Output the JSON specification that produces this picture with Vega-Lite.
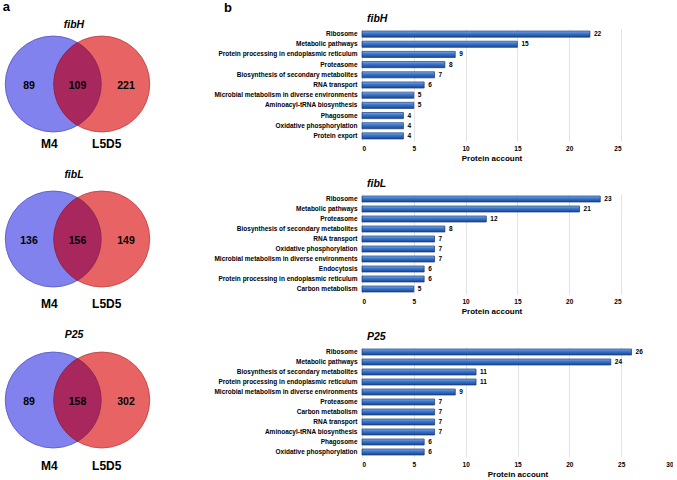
{
  "$schema": "https://vega.github.io/schema/vega-lite/v6.json",
  "background": "white",
  "padding": {"left": 2, "top": 0, "right": 0, "bottom": 0},
  "config": {
    "font": "Liberation Sans",
    "view": {"stroke": null},
    "axis": {"labelColor": "#000", "titleColor": "#000"}
  },
  "datasets": {
    "venn": [
      {"panel": "fibH", "region": "M4 only", "count": 89},
      {"panel": "fibH", "region": "both", "count": 109},
      {"panel": "fibH", "region": "L5D5 only", "count": 221},
      {"panel": "fibL", "region": "M4 only", "count": 136},
      {"panel": "fibL", "region": "both", "count": 156},
      {"panel": "fibL", "region": "L5D5 only", "count": 149},
      {"panel": "P25", "region": "M4 only", "count": 89},
      {"panel": "P25", "region": "both", "count": 158},
      {"panel": "P25", "region": "L5D5 only", "count": 302}
    ],
    "sets": [{"set": "M4"}, {"set": "L5D5"}],
    "bars": [
      {"panel": "fibH", "pathway": "Ribosome", "count": 22},
      {"panel": "fibH", "pathway": "Metabolic pathways", "count": 15},
      {"panel": "fibH", "pathway": "Protein processing in endoplasmic reticulum", "count": 9},
      {"panel": "fibH", "pathway": "Proteasome", "count": 8},
      {"panel": "fibH", "pathway": "Biosynthesis of secondary metabolites", "count": 7},
      {"panel": "fibH", "pathway": "RNA transport", "count": 6},
      {"panel": "fibH", "pathway": "Microbial metabolism in diverse environments", "count": 5},
      {"panel": "fibH", "pathway": "Aminoacyl-tRNA biosynthesis", "count": 5},
      {"panel": "fibH", "pathway": "Phagosome", "count": 4},
      {"panel": "fibH", "pathway": "Oxidative phosphorylation", "count": 4},
      {"panel": "fibH", "pathway": "Protein export", "count": 4},
      {"panel": "fibL", "pathway": "Ribosome", "count": 23},
      {"panel": "fibL", "pathway": "Metabolic pathways", "count": 21},
      {"panel": "fibL", "pathway": "Proteasome", "count": 12},
      {"panel": "fibL", "pathway": "Biosynthesis of secondary metabolites", "count": 8},
      {"panel": "fibL", "pathway": "RNA transport", "count": 7},
      {"panel": "fibL", "pathway": "Oxidative phosphorylation", "count": 7},
      {"panel": "fibL", "pathway": "Microbial metabolism in diverse environments", "count": 7},
      {"panel": "fibL", "pathway": "Endocytosis", "count": 6},
      {"panel": "fibL", "pathway": "Protein processing in endoplasmic reticulum", "count": 6},
      {"panel": "fibL", "pathway": "Carbon metabolism", "count": 5},
      {"panel": "P25", "pathway": "Ribosome", "count": 26},
      {"panel": "P25", "pathway": "Metabolic pathways", "count": 24},
      {"panel": "P25", "pathway": "Biosynthesis of secondary metabolites", "count": 11},
      {"panel": "P25", "pathway": "Protein processing in endoplasmic reticulum", "count": 11},
      {"panel": "P25", "pathway": "Microbial metabolism in diverse environments", "count": 9},
      {"panel": "P25", "pathway": "Proteasome", "count": 7},
      {"panel": "P25", "pathway": "Carbon metabolism", "count": 7},
      {"panel": "P25", "pathway": "RNA transport", "count": 7},
      {"panel": "P25", "pathway": "Aminoacyl-tRNA biosynthesis", "count": 7},
      {"panel": "P25", "pathway": "Phagosome", "count": 6},
      {"panel": "P25", "pathway": "Oxidative phosphorylation", "count": 6}
    ]
  },
  "spacing": 61,
  "hconcat": [
    {
      "title": {"text": "a", "anchor": "start", "frame": "bounds", "fontSize": 13, "fontWeight": "bold", "offset": 6, "dx": -1},
      "bounds": "flush",
      "spacing": 40,
      "vconcat": [
        {
          "width": 97, "height": 110,
          "title": {"text": "fibH", "anchor": "middle", "fontStyle": "italic", "fontWeight": "bold", "fontSize": 10.5, "offset": -1, "dx": -3.5},
          "layer": [
            {"data": {"name": "sets"},
             "mark": {"type": "point", "shape": "circle", "filled": true, "opacity": 1, "size": 9216, "strokeWidth": 0.8},
             "encoding": {"x": {"field": "set", "type": "nominal", "scale": {"type": "point", "domain": ["M4 only", "M4", "both", "L5D5", "L5D5 only"], "padding": 0}, "axis": null},
                          "y": {"datum": "diagram", "type": "nominal", "scale": {"type": "point", "domain": ["top", "diagram", "label"], "padding": 0}, "axis": null},
                          "fill": {"field": "set", "type": "nominal", "scale": {"domain": ["M4", "L5D5"], "range": ["#8282ee", "#e86464"]}, "legend": null},
                          "stroke": {"field": "set", "type": "nominal", "scale": {"domain": ["M4", "L5D5"], "range": ["#5050c4", "#bb3b3b"]}, "legend": null}}},
            {"data": {"name": "venn"}, "transform": [{"filter": "datum.panel === 'fibH' && datum.region === 'both'"}],
             "mark": {"type": "point", "shape": "M 0 -0.863 A 1 1 0 0 1 0 0.863 A 1 1 0 0 1 0 -0.863 Z", "filled": true, "opacity": 1, "size": 9216, "fill": "#a8285e", "stroke": "#7d1c44", "strokeWidth": 0.6},
             "encoding": {"x": {"field": "region", "type": "nominal"}, "y": {"datum": "diagram", "type": "nominal"}}},
            {"data": {"name": "venn"}, "transform": [{"filter": "datum.panel === 'fibH'"}],
             "mark": {"type": "text", "fontSize": 10.5, "fontWeight": "bold", "dy": 2, "color": "#000"},
             "encoding": {"x": {"field": "region", "type": "nominal"}, "y": {"datum": "diagram", "type": "nominal"}, "text": {"field": "count", "type": "nominal"}}},
            {"data": {"name": "sets"}, "transform": [{"filter": "datum.set === 'M4'"}],
             "mark": {"type": "text", "fontSize": 12, "fontWeight": "bold", "color": "#000", "dy": 5, "dx": -4},
             "encoding": {"x": {"field": "set", "type": "nominal"}, "y": {"datum": "label", "type": "nominal"}, "text": {"field": "set", "type": "nominal"}}},
            {"data": {"name": "sets"}, "transform": [{"filter": "datum.set === 'L5D5'"}],
             "mark": {"type": "text", "fontSize": 12, "fontWeight": "bold", "color": "#000", "dy": 5, "dx": 5},
             "encoding": {"x": {"field": "set", "type": "nominal"}, "y": {"datum": "label", "type": "nominal"}, "text": {"field": "set", "type": "nominal"}}}
          ]
        },
        {
          "width": 97, "height": 120,
          "title": {"text": "fibL", "anchor": "middle", "fontStyle": "italic", "fontWeight": "bold", "fontSize": 10.5, "offset": -1, "dx": -3.5},
          "layer": [
            {"data": {"name": "sets"},
             "mark": {"type": "point", "shape": "circle", "filled": true, "opacity": 1, "size": 9216, "strokeWidth": 0.8},
             "encoding": {"x": {"field": "set", "type": "nominal", "scale": {"type": "point", "domain": ["M4 only", "M4", "both", "L5D5", "L5D5 only"], "padding": 0}, "axis": null},
                          "y": {"datum": "diagram", "type": "nominal", "scale": {"type": "point", "domain": ["top", "diagram", "label"], "padding": 0}, "axis": null},
                          "fill": {"field": "set", "type": "nominal", "scale": {"domain": ["M4", "L5D5"], "range": ["#8282ee", "#e86464"]}, "legend": null},
                          "stroke": {"field": "set", "type": "nominal", "scale": {"domain": ["M4", "L5D5"], "range": ["#5050c4", "#bb3b3b"]}, "legend": null}}},
            {"data": {"name": "venn"}, "transform": [{"filter": "datum.panel === 'fibL' && datum.region === 'both'"}],
             "mark": {"type": "point", "shape": "M 0 -0.863 A 1 1 0 0 1 0 0.863 A 1 1 0 0 1 0 -0.863 Z", "filled": true, "opacity": 1, "size": 9216, "fill": "#a8285e", "stroke": "#7d1c44", "strokeWidth": 0.6},
             "encoding": {"x": {"field": "region", "type": "nominal"}, "y": {"datum": "diagram", "type": "nominal"}}},
            {"data": {"name": "venn"}, "transform": [{"filter": "datum.panel === 'fibL'"}],
             "mark": {"type": "text", "fontSize": 10.5, "fontWeight": "bold", "dy": 2, "color": "#000"},
             "encoding": {"x": {"field": "region", "type": "nominal"}, "y": {"datum": "diagram", "type": "nominal"}, "text": {"field": "count", "type": "nominal"}}},
            {"data": {"name": "sets"}, "transform": [{"filter": "datum.set === 'M4'"}],
             "mark": {"type": "text", "fontSize": 12, "fontWeight": "bold", "color": "#000", "dy": 5, "dx": -4},
             "encoding": {"x": {"field": "set", "type": "nominal"}, "y": {"datum": "label", "type": "nominal"}, "text": {"field": "set", "type": "nominal"}}},
            {"data": {"name": "sets"}, "transform": [{"filter": "datum.set === 'L5D5'"}],
             "mark": {"type": "text", "fontSize": 12, "fontWeight": "bold", "color": "#000", "dy": 5, "dx": 5},
             "encoding": {"x": {"field": "set", "type": "nominal"}, "y": {"datum": "label", "type": "nominal"}, "text": {"field": "set", "type": "nominal"}}}
          ]
        },
        {
          "width": 97, "height": 122,
          "title": {"text": "P25", "anchor": "middle", "fontStyle": "italic", "fontWeight": "bold", "fontSize": 10.5, "offset": -1, "dx": -3.5},
          "layer": [
            {"data": {"name": "sets"},
             "mark": {"type": "point", "shape": "circle", "filled": true, "opacity": 1, "size": 9216, "strokeWidth": 0.8},
             "encoding": {"x": {"field": "set", "type": "nominal", "scale": {"type": "point", "domain": ["M4 only", "M4", "both", "L5D5", "L5D5 only"], "padding": 0}, "axis": null},
                          "y": {"datum": "diagram", "type": "nominal", "scale": {"type": "point", "domain": ["top", "diagram", "label"], "padding": 0}, "axis": null},
                          "fill": {"field": "set", "type": "nominal", "scale": {"domain": ["M4", "L5D5"], "range": ["#8282ee", "#e86464"]}, "legend": null},
                          "stroke": {"field": "set", "type": "nominal", "scale": {"domain": ["M4", "L5D5"], "range": ["#5050c4", "#bb3b3b"]}, "legend": null}}},
            {"data": {"name": "venn"}, "transform": [{"filter": "datum.panel === 'P25' && datum.region === 'both'"}],
             "mark": {"type": "point", "shape": "M 0 -0.863 A 1 1 0 0 1 0 0.863 A 1 1 0 0 1 0 -0.863 Z", "filled": true, "opacity": 1, "size": 9216, "fill": "#a8285e", "stroke": "#7d1c44", "strokeWidth": 0.6},
             "encoding": {"x": {"field": "region", "type": "nominal"}, "y": {"datum": "diagram", "type": "nominal"}}},
            {"data": {"name": "venn"}, "transform": [{"filter": "datum.panel === 'P25'"}],
             "mark": {"type": "text", "fontSize": 10.5, "fontWeight": "bold", "dy": 2, "color": "#000"},
             "encoding": {"x": {"field": "region", "type": "nominal"}, "y": {"datum": "diagram", "type": "nominal"}, "text": {"field": "count", "type": "nominal"}}},
            {"data": {"name": "sets"}, "transform": [{"filter": "datum.set === 'M4'"}],
             "mark": {"type": "text", "fontSize": 12, "fontWeight": "bold", "color": "#000", "dy": 5, "dx": -4},
             "encoding": {"x": {"field": "set", "type": "nominal"}, "y": {"datum": "label", "type": "nominal"}, "text": {"field": "set", "type": "nominal"}}},
            {"data": {"name": "sets"}, "transform": [{"filter": "datum.set === 'L5D5'"}],
             "mark": {"type": "text", "fontSize": 12, "fontWeight": "bold", "color": "#000", "dy": 5, "dx": 5},
             "encoding": {"x": {"field": "set", "type": "nominal"}, "y": {"datum": "label", "type": "nominal"}, "text": {"field": "set", "type": "nominal"}}}
          ]
        }
      ]
    },
    {
      "title": {"text": "b", "anchor": "start", "frame": "bounds", "fontSize": 13, "fontWeight": "bold", "offset": -1, "dx": 10},
      "bounds": "flush",
      "spacing": 53,
      "vconcat": [
        {
          "width": 259, "height": 112,
          "data": {"name": "bars"},
          "transform": [{"filter": "datum.panel === 'fibH'"}],
          "title": {"text": "fibH", "anchor": "start", "frame": "group", "fontStyle": "italic", "fontWeight": "bold", "fontSize": 10.5, "offset": 5, "dx": 5},
          "encoding": {
            "y": {"field": "pathway", "type": "nominal", "sort": null, "scale": {"paddingInner": 0.4, "paddingOuter": 0.2},
                  "axis": {"title": null, "labelFontSize": 6.5, "labelFontWeight": "bold", "domain": false, "ticks": false, "labelPadding": 5, "labelLimit": 300}},
            "x": {"field": "count", "type": "quantitative", "scale": {"domain": [0, 25], "nice": false},
                  "axis": {"title": "Protein account", "titleFontSize": 8, "titleFontWeight": "bold", "titlePadding": 3, "labelFontSize": 6.5, "labelFontWeight": "bold", "labelPadding": 4, "domain": false, "ticks": false, "values": [0, 5, 10, 15, 20, 25], "gridColor": "#dcdcdc", "gridWidth": 0.8}}
          },
          "layer": [
            {"mark": {"type": "bar", "stroke": "#1a3a78", "strokeWidth": 0.7,
                      "color": {"gradient": "linear", "x1": 0, "y1": 0, "x2": 0, "y2": 1, "stops": [{"offset": 0, "color": "#80b2ec"}, {"offset": 0.35, "color": "#3f7bcf"}, {"offset": 1, "color": "#1a4592"}]}}},
            {"mark": {"type": "text", "align": "left", "dx": 4, "fontSize": 6.5, "fontWeight": "bold", "color": "#000"},
             "encoding": {"text": {"field": "count", "type": "quantitative"}}}
          ]
        },
        {
          "width": 259, "height": 100,
          "data": {"name": "bars"},
          "transform": [{"filter": "datum.panel === 'fibL'"}],
          "title": {"text": "fibL", "anchor": "start", "frame": "group", "fontStyle": "italic", "fontWeight": "bold", "fontSize": 10.5, "offset": 5, "dx": 5},
          "encoding": {
            "y": {"field": "pathway", "type": "nominal", "sort": null, "scale": {"paddingInner": 0.4, "paddingOuter": 0.2},
                  "axis": {"title": null, "labelFontSize": 6.5, "labelFontWeight": "bold", "domain": false, "ticks": false, "labelPadding": 5, "labelLimit": 300}},
            "x": {"field": "count", "type": "quantitative", "scale": {"domain": [0, 25], "nice": false},
                  "axis": {"title": "Protein account", "titleFontSize": 8, "titleFontWeight": "bold", "titlePadding": 3, "labelFontSize": 6.5, "labelFontWeight": "bold", "labelPadding": 4, "domain": false, "ticks": false, "values": [0, 5, 10, 15, 20, 25], "gridColor": "#dcdcdc", "gridWidth": 0.8}}
          },
          "layer": [
            {"mark": {"type": "bar", "stroke": "#1a3a78", "strokeWidth": 0.7,
                      "color": {"gradient": "linear", "x1": 0, "y1": 0, "x2": 0, "y2": 1, "stops": [{"offset": 0, "color": "#80b2ec"}, {"offset": 0.35, "color": "#3f7bcf"}, {"offset": 1, "color": "#1a4592"}]}}},
            {"mark": {"type": "text", "align": "left", "dx": 4, "fontSize": 6.5, "fontWeight": "bold", "color": "#000"},
             "encoding": {"text": {"field": "count", "type": "quantitative"}}}
          ]
        },
        {
          "width": 311, "height": 110,
          "data": {"name": "bars"},
          "transform": [{"filter": "datum.panel === 'P25'"}],
          "title": {"text": "P25", "anchor": "start", "frame": "group", "fontStyle": "italic", "fontWeight": "bold", "fontSize": 10.5, "offset": 5, "dx": 5},
          "encoding": {
            "y": {"field": "pathway", "type": "nominal", "sort": null, "scale": {"paddingInner": 0.4, "paddingOuter": 0.2},
                  "axis": {"title": null, "labelFontSize": 6.5, "labelFontWeight": "bold", "domain": false, "ticks": false, "labelPadding": 5, "labelLimit": 300}},
            "x": {"field": "count", "type": "quantitative", "scale": {"domain": [0, 30], "nice": false},
                  "axis": {"title": "Protein account", "titleFontSize": 8, "titleFontWeight": "bold", "titlePadding": 3, "labelFontSize": 6.5, "labelFontWeight": "bold", "labelPadding": 4, "domain": false, "ticks": false, "values": [0, 5, 10, 15, 20, 25, 30], "gridColor": "#dcdcdc", "gridWidth": 0.8}}
          },
          "layer": [
            {"mark": {"type": "bar", "stroke": "#1a3a78", "strokeWidth": 0.7,
                      "color": {"gradient": "linear", "x1": 0, "y1": 0, "x2": 0, "y2": 1, "stops": [{"offset": 0, "color": "#80b2ec"}, {"offset": 0.35, "color": "#3f7bcf"}, {"offset": 1, "color": "#1a4592"}]}}},
            {"mark": {"type": "text", "align": "left", "dx": 4, "fontSize": 6.5, "fontWeight": "bold", "color": "#000"},
             "encoding": {"text": {"field": "count", "type": "quantitative"}}}
          ]
        }
      ]
    }
  ]
}
